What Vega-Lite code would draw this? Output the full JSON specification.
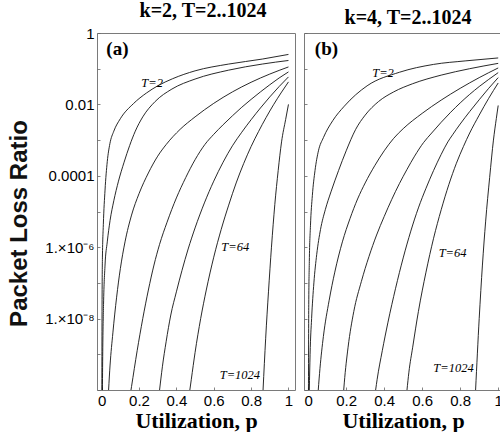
{
  "$schema": "https://vega.github.io/schema/vega-lite/v6.json",
  "background": "white",
  "padding": {"left": 6, "top": 0, "right": 0, "bottom": 0},
  "spacing": 7,
  "config": {"view": {"stroke": "#7a7a7a", "strokeWidth": 1}, "font": "Liberation Sans", "axis": {"labelOverlap": false}},
  "datasets": {
    "a": [
      {"T": "2", "p": 1.0, "ratio": 0.251}, {"T": "2", "p": 0.86, "ratio": 0.186}, {"T": "2", "p": 0.68, "ratio": 0.135},
      {"T": "2", "p": 0.50, "ratio": 0.0871}, {"T": "2", "p": 0.38, "ratio": 0.0525}, {"T": "2", "p": 0.30, "ratio": 0.0331},
      {"T": "2", "p": 0.24, "ratio": 0.0209}, {"T": "2", "p": 0.17, "ratio": 0.0105}, {"T": "2", "p": 0.10, "ratio": 0.00398},
      {"T": "2", "p": 0.065, "ratio": 0.00178}, {"T": "2", "p": 0.044, "ratio": 7.94e-4}, {"T": "2", "p": 0.03, "ratio": 2.51e-4},
      {"T": "2", "p": 0.018, "ratio": 3.98e-5}, {"T": "2", "p": 0.009, "ratio": 4.37e-6}, {"T": "2", "p": 0.004, "ratio": 5.01e-7},
      {"T": "2", "p": 0.002, "ratio": 1.58e-8}, {"T": "2", "p": 0.001, "ratio": 1e-10},

      {"T": "4", "p": 1.0, "ratio": 0.17}, {"T": "4", "p": 0.86, "ratio": 0.135}, {"T": "4", "p": 0.68, "ratio": 0.0912},
      {"T": "4", "p": 0.50, "ratio": 0.0513}, {"T": "4", "p": 0.376, "ratio": 0.0269}, {"T": "4", "p": 0.286, "ratio": 0.012},
      {"T": "4", "p": 0.22, "ratio": 0.00447}, {"T": "4", "p": 0.18, "ratio": 0.00178}, {"T": "4", "p": 0.15, "ratio": 7.08e-4},
      {"T": "4", "p": 0.12, "ratio": 2.4e-4}, {"T": "4", "p": 0.09, "ratio": 7.08e-5}, {"T": "4", "p": 0.065, "ratio": 2.0e-5},
      {"T": "4", "p": 0.045, "ratio": 5.62e-6}, {"T": "4", "p": 0.03, "ratio": 1.41e-6}, {"T": "4", "p": 0.018, "ratio": 3.16e-7},
      {"T": "4", "p": 0.01, "ratio": 2.51e-8}, {"T": "4", "p": 0.006, "ratio": 1.58e-9}, {"T": "4", "p": 0.004, "ratio": 1e-10},

      {"T": "8", "p": 1.0, "ratio": 0.112}, {"T": "8", "p": 0.90, "ratio": 0.0708}, {"T": "8", "p": 0.80, "ratio": 0.0417},
      {"T": "8", "p": 0.70, "ratio": 0.0224}, {"T": "8", "p": 0.60, "ratio": 0.0107}, {"T": "8", "p": 0.50, "ratio": 0.00447},
      {"T": "8", "p": 0.42, "ratio": 0.002}, {"T": "8", "p": 0.346, "ratio": 7.59e-4}, {"T": "8", "p": 0.30, "ratio": 3.55e-4},
      {"T": "8", "p": 0.25, "ratio": 1.2e-4}, {"T": "8", "p": 0.20, "ratio": 3.16e-5}, {"T": "8", "p": 0.16, "ratio": 7.94e-6},
      {"T": "8", "p": 0.125, "ratio": 1.41e-6}, {"T": "8", "p": 0.10, "ratio": 2.51e-7}, {"T": "8", "p": 0.08, "ratio": 3.98e-8},
      {"T": "8", "p": 0.06, "ratio": 3.98e-9}, {"T": "8", "p": 0.045, "ratio": 5.01e-10}, {"T": "8", "p": 0.037, "ratio": 1e-10},

      {"T": "16", "p": 1.0, "ratio": 0.0813}, {"T": "16", "p": 0.95, "ratio": 0.055}, {"T": "16", "p": 0.90, "ratio": 0.0355},
      {"T": "16", "p": 0.85, "ratio": 0.0224}, {"T": "16", "p": 0.80, "ratio": 0.0138}, {"T": "16", "p": 0.75, "ratio": 0.00832},
      {"T": "16", "p": 0.70, "ratio": 0.00479}, {"T": "16", "p": 0.65, "ratio": 0.00269}, {"T": "16", "p": 0.60, "ratio": 0.00145},
      {"T": "16", "p": 0.553, "ratio": 7.59e-4}, {"T": "16", "p": 0.50, "ratio": 2.82e-4}, {"T": "16", "p": 0.45, "ratio": 8.91e-5},
      {"T": "16", "p": 0.40, "ratio": 2.4e-5}, {"T": "16", "p": 0.35, "ratio": 5.01e-6}, {"T": "16", "p": 0.31, "ratio": 1.2e-6},
      {"T": "16", "p": 0.28, "ratio": 3.16e-7}, {"T": "16", "p": 0.25, "ratio": 6.31e-8}, {"T": "16", "p": 0.22, "ratio": 1e-8},
      {"T": "16", "p": 0.19, "ratio": 1.26e-9}, {"T": "16", "p": 0.16, "ratio": 1.26e-10}, {"T": "16", "p": 0.157, "ratio": 1e-10},

      {"T": "32", "p": 1.0, "ratio": 0.0589}, {"T": "32", "p": 0.95, "ratio": 0.0316}, {"T": "32", "p": 0.90, "ratio": 0.0162},
      {"T": "32", "p": 0.85, "ratio": 0.00794}, {"T": "32", "p": 0.80, "ratio": 0.00372}, {"T": "32", "p": 0.75, "ratio": 0.00166},
      {"T": "32", "p": 0.70, "ratio": 6.92e-4}, {"T": "32", "p": 0.65, "ratio": 2.4e-4}, {"T": "32", "p": 0.60, "ratio": 7.08e-5},
      {"T": "32", "p": 0.55, "ratio": 1.74e-5}, {"T": "32", "p": 0.50, "ratio": 3.47e-6}, {"T": "32", "p": 0.463, "ratio": 8.91e-7},
      {"T": "32", "p": 0.43, "ratio": 2.24e-7}, {"T": "32", "p": 0.40, "ratio": 5.62e-8}, {"T": "32", "p": 0.37, "ratio": 1.26e-8},
      {"T": "32", "p": 0.345, "ratio": 2.24e-9}, {"T": "32", "p": 0.325, "ratio": 4.47e-10}, {"T": "32", "p": 0.31, "ratio": 1e-10},

      {"T": "64", "p": 1.0, "ratio": 0.0427}, {"T": "64", "p": 0.96, "ratio": 0.0209}, {"T": "64", "p": 0.92, "ratio": 0.00977},
      {"T": "64", "p": 0.88, "ratio": 0.00427}, {"T": "64", "p": 0.84, "ratio": 0.00174}, {"T": "64", "p": 0.80, "ratio": 6.61e-4},
      {"T": "64", "p": 0.76, "ratio": 2.19e-4}, {"T": "64", "p": 0.72, "ratio": 6.31e-5}, {"T": "64", "p": 0.68, "ratio": 1.51e-5},
      {"T": "64", "p": 0.64, "ratio": 3.16e-6}, {"T": "64", "p": 0.60, "ratio": 5.25e-7}, {"T": "64", "p": 0.56, "ratio": 6.31e-8},
      {"T": "64", "p": 0.53, "ratio": 1e-8}, {"T": "64", "p": 0.50, "ratio": 1.12e-9}, {"T": "64", "p": 0.48, "ratio": 2.0e-10},
      {"T": "64", "p": 0.472, "ratio": 1e-10},

      {"T": "1024", "p": 1.0, "ratio": 0.01}, {"T": "1024", "p": 0.985, "ratio": 0.0038}, {"T": "1024", "p": 0.963, "ratio": 8.91e-4},
      {"T": "1024", "p": 0.945, "ratio": 1.41e-4}, {"T": "1024", "p": 0.927, "ratio": 1.58e-5}, {"T": "1024", "p": 0.909, "ratio": 1e-6},
      {"T": "1024", "p": 0.893, "ratio": 5.62e-8}, {"T": "1024", "p": 0.878, "ratio": 2.82e-9}, {"T": "1024", "p": 0.864, "ratio": 1e-10}
    ],
    "b": [
      {"T": "2", "p": 1.0, "ratio": 0.2}, {"T": "2", "p": 0.83, "ratio": 0.166}, {"T": "2", "p": 0.66, "ratio": 0.132},
      {"T": "2", "p": 0.48, "ratio": 0.0794}, {"T": "2", "p": 0.31, "ratio": 0.0331}, {"T": "2", "p": 0.19, "ratio": 0.00891},
      {"T": "2", "p": 0.13, "ratio": 0.00355}, {"T": "2", "p": 0.08, "ratio": 0.00117}, {"T": "2", "p": 0.054, "ratio": 5.01e-4},
      {"T": "2", "p": 0.036, "ratio": 1.41e-4}, {"T": "2", "p": 0.022, "ratio": 2.82e-5}, {"T": "2", "p": 0.012, "ratio": 3.98e-6},
      {"T": "2", "p": 0.006, "ratio": 3.98e-7}, {"T": "2", "p": 0.003, "ratio": 2.51e-8}, {"T": "2", "p": 0.0015, "ratio": 1e-10},

      {"T": "4", "p": 1.0, "ratio": 0.141}, {"T": "4", "p": 0.85, "ratio": 0.1}, {"T": "4", "p": 0.70, "ratio": 0.0661},
      {"T": "4", "p": 0.55, "ratio": 0.038}, {"T": "4", "p": 0.45, "ratio": 0.0224}, {"T": "4", "p": 0.37, "ratio": 0.012},
      {"T": "4", "p": 0.30, "ratio": 0.00501}, {"T": "4", "p": 0.25, "ratio": 0.002}, {"T": "4", "p": 0.20, "ratio": 5.01e-4},
      {"T": "4", "p": 0.16, "ratio": 1.41e-4}, {"T": "4", "p": 0.12, "ratio": 3.55e-5}, {"T": "4", "p": 0.09, "ratio": 1.12e-5},
      {"T": "4", "p": 0.065, "ratio": 3.16e-6}, {"T": "4", "p": 0.045, "ratio": 6.31e-7}, {"T": "4", "p": 0.03, "ratio": 1e-7},
      {"T": "4", "p": 0.018, "ratio": 1e-8}, {"T": "4", "p": 0.01, "ratio": 1e-9}, {"T": "4", "p": 0.006, "ratio": 1e-10},

      {"T": "8", "p": 1.0, "ratio": 0.105}, {"T": "8", "p": 0.90, "ratio": 0.0562}, {"T": "8", "p": 0.80, "ratio": 0.0282},
      {"T": "8", "p": 0.70, "ratio": 0.0132}, {"T": "8", "p": 0.60, "ratio": 0.00562}, {"T": "8", "p": 0.50, "ratio": 0.00209},
      {"T": "8", "p": 0.45, "ratio": 0.00112}, {"T": "8", "p": 0.40, "ratio": 5.01e-4}, {"T": "8", "p": 0.35, "ratio": 1.91e-4},
      {"T": "8", "p": 0.30, "ratio": 6.31e-5}, {"T": "8", "p": 0.26, "ratio": 2.24e-5}, {"T": "8", "p": 0.22, "ratio": 6.31e-6},
      {"T": "8", "p": 0.18, "ratio": 1.41e-6}, {"T": "8", "p": 0.14, "ratio": 2.0e-7}, {"T": "8", "p": 0.11, "ratio": 3.16e-8},
      {"T": "8", "p": 0.08, "ratio": 3.16e-9}, {"T": "8", "p": 0.062, "ratio": 3.98e-10}, {"T": "8", "p": 0.053, "ratio": 1e-10},

      {"T": "16", "p": 1.0, "ratio": 0.0776}, {"T": "16", "p": 0.95, "ratio": 0.0501}, {"T": "16", "p": 0.90, "ratio": 0.0316},
      {"T": "16", "p": 0.85, "ratio": 0.0191}, {"T": "16", "p": 0.80, "ratio": 0.011}, {"T": "16", "p": 0.75, "ratio": 0.00603},
      {"T": "16", "p": 0.70, "ratio": 0.00316}, {"T": "16", "p": 0.65, "ratio": 0.00158}, {"T": "16", "p": 0.607, "ratio": 8.51e-4},
      {"T": "16", "p": 0.56, "ratio": 3.55e-4}, {"T": "16", "p": 0.52, "ratio": 1.51e-4}, {"T": "16", "p": 0.48, "ratio": 6.03e-5},
      {"T": "16", "p": 0.44, "ratio": 2.19e-5}, {"T": "16", "p": 0.40, "ratio": 7.24e-6}, {"T": "16", "p": 0.36, "ratio": 2.19e-6},
      {"T": "16", "p": 0.32, "ratio": 5.5e-7}, {"T": "16", "p": 0.28, "ratio": 1.1e-7}, {"T": "16", "p": 0.24, "ratio": 1.58e-8},
      {"T": "16", "p": 0.21, "ratio": 1.58e-9}, {"T": "16", "p": 0.19, "ratio": 1.58e-10}, {"T": "16", "p": 0.187, "ratio": 1e-10},

      {"T": "32", "p": 1.0, "ratio": 0.0562}, {"T": "32", "p": 0.95, "ratio": 0.0282}, {"T": "32", "p": 0.90, "ratio": 0.0135},
      {"T": "32", "p": 0.85, "ratio": 0.00631}, {"T": "32", "p": 0.80, "ratio": 0.00282}, {"T": "32", "p": 0.76, "ratio": 0.00141},
      {"T": "32", "p": 0.735, "ratio": 8.91e-4}, {"T": "32", "p": 0.70, "ratio": 3.98e-4}, {"T": "32", "p": 0.66, "ratio": 1.41e-4},
      {"T": "32", "p": 0.62, "ratio": 4.47e-5}, {"T": "32", "p": 0.58, "ratio": 1.26e-5}, {"T": "32", "p": 0.54, "ratio": 2.82e-6},
      {"T": "32", "p": 0.50, "ratio": 5.01e-7}, {"T": "32", "p": 0.46, "ratio": 7.08e-8}, {"T": "32", "p": 0.42, "ratio": 7.94e-9},
      {"T": "32", "p": 0.39, "ratio": 1.26e-9}, {"T": "32", "p": 0.363, "ratio": 2.0e-10}, {"T": "32", "p": 0.355, "ratio": 1e-10},

      {"T": "64", "p": 1.0, "ratio": 0.0398}, {"T": "64", "p": 0.95, "ratio": 0.0148}, {"T": "64", "p": 0.90, "ratio": 0.00501},
      {"T": "64", "p": 0.85, "ratio": 0.00158}, {"T": "64", "p": 0.817, "ratio": 6.61e-4}, {"T": "64", "p": 0.78, "ratio": 2.24e-4},
      {"T": "64", "p": 0.74, "ratio": 5.62e-5}, {"T": "64", "p": 0.70, "ratio": 1.12e-5}, {"T": "64", "p": 0.66, "ratio": 1.78e-6},
      {"T": "64", "p": 0.62, "ratio": 2.0e-7}, {"T": "64", "p": 0.58, "ratio": 1.58e-8}, {"T": "64", "p": 0.55, "ratio": 1.58e-9},
      {"T": "64", "p": 0.53, "ratio": 3.16e-10}, {"T": "64", "p": 0.52, "ratio": 1e-10},

      {"T": "1024", "p": 1.0, "ratio": 0.00933}, {"T": "1024", "p": 0.99, "ratio": 0.00398}, {"T": "1024", "p": 0.975, "ratio": 0.001},
      {"T": "1024", "p": 0.955, "ratio": 8.91e-5}, {"T": "1024", "p": 0.934, "ratio": 5.37e-6}, {"T": "1024", "p": 0.917, "ratio": 3.16e-7},
      {"T": "1024", "p": 0.90, "ratio": 1e-8}, {"T": "1024", "p": 0.881, "ratio": 1e-10}
    ],
    "panA": [{"label": "(a)", "p": 0.025, "ratio": 0.347}],
    "panB": [{"label": "(b)", "p": 0.035, "ratio": 0.347}],
    "tagA": [
      {"label": "T=2", "p": 0.27, "ratio": 0.0398},
      {"label": "T=64", "p": 0.715, "ratio": 1e-6},
      {"label": "T=1024", "p": 0.74, "ratio": 2.6e-10}
    ],
    "tagB": [
      {"label": "T=2", "p": 0.394, "ratio": 0.0776},
      {"label": "T=64", "p": 0.76, "ratio": 6.76e-7},
      {"label": "T=1024", "p": 0.765, "ratio": 4.07e-10}
    ]
  },
  "hconcat": [
    {
      "width": 198,
      "height": 357,
      "title": {"text": "k=2, T=2..1024", "font": "Liberation Serif", "fontSize": 20, "fontWeight": "bold", "color": "#000", "offset": 5, "frame": "group", "dx": 7},
      "encoding": {
        "x": {
          "field": "p", "type": "quantitative",
          "scale": {"domain": [-0.025, 1.035], "nice": false, "zero": false},
          "axis": {
            "values": [0, 0.2, 0.4, 0.6, 0.8, 1],
            "labelExpr": "datum.value < 0.01 ? '0' : datum.value > 0.99 ? '1' : format(datum.value, '.1f')",
            "labelOverlap": false, "labelBound": false, "labelFlush": false, "labelSeparation": 0,
            "title": "Utilization, p", "titleFont": "Liberation Serif", "titleFontSize": 22, "titleFontWeight": "bold", "titleColor": "#000", "titlePadding": 2,
            "labelFont": "Liberation Sans", "labelFontSize": 15, "labelColor": "#000", "labelPadding": 6,
            "domain": false, "grid": false, "tickSize": -3, "tickColor": "#666", "tickWidth": 0.8
          }
        },
        "y": {
          "field": "ratio", "type": "quantitative",
          "scale": {"type": "log", "domain": [1e-10, 1], "nice": false},
          "axis": {
            "values": [1, 0.1, 0.01, 0.001, 0.0001, 1e-5, 1e-6, 1e-7, 1e-8, 1e-9, 1e-10],
            "labelExpr": "round(log(datum.value)/LN10) == 0 ? '1' : round(log(datum.value)/LN10) == -2 ? '0.01' : round(log(datum.value)/LN10) == -4 ? '0.0001' : round(log(datum.value)/LN10) == -6 ? '1.×10⁻⁶' : round(log(datum.value)/LN10) == -8 ? '1.×10⁻⁸' : ''",
            "labelOverlap": false, "labelBound": false, "labelFlush": false,
            "title": "Packet Loss Ratio", "titleFont": "Liberation Sans", "titleFontSize": 24, "titleFontWeight": "bold", "titleColor": "#111", "titlePadding": 4, "titleY": 190,
            "labelFont": "Liberation Sans", "labelFontSize": 15, "labelColor": "#000", "labelPadding": 6,
            "domain": false, "grid": false, "tickSize": -3, "tickColor": "#666", "tickWidth": 0.8,
            "minExtent": 62, "maxExtent": 62
          }
        }
      },
      "layer": [
        {
          "data": {"name": "a"},
          "mark": {"type": "line", "color": "#111", "strokeWidth": 0.9, "clip": true, "interpolate": "monotone"},
          "encoding": {"detail": {"field": "T", "type": "nominal"}}
        },
        {
          "data": {"name": "panA"},
          "mark": {"type": "text", "font": "Liberation Serif", "fontWeight": "bold", "fontSize": 19, "align": "left", "baseline": "middle", "color": "#000"},
          "encoding": {"text": {"field": "label"}}
        },
        {
          "data": {"name": "tagA"},
          "mark": {"type": "text", "font": "Liberation Serif", "fontStyle": "italic", "fontSize": 12.5, "align": "center", "baseline": "middle", "color": "#000"},
          "encoding": {"text": {"field": "label"}}
        }
      ]
    },
    {
      "width": 198,
      "height": 357,
      "title": {"text": "k=4, T=2..1024", "font": "Liberation Serif", "fontSize": 20, "fontWeight": "bold", "color": "#000", "offset": 5, "frame": "group", "dx": 5},
      "encoding": {
        "x": {
          "field": "p", "type": "quantitative",
          "scale": {"domain": [-0.022, 1.02], "nice": false, "zero": false},
          "axis": {
            "values": [0, 0.2, 0.4, 0.6, 0.8, 1],
            "labelExpr": "datum.value < 0.01 ? '0' : datum.value > 0.99 ? '1' : format(datum.value, '.1f')",
            "labelOverlap": false, "labelBound": false, "labelFlush": false, "labelSeparation": 0,
            "title": "Utilization, p", "titleFont": "Liberation Serif", "titleFontSize": 22, "titleFontWeight": "bold", "titleColor": "#000", "titlePadding": 2,
            "labelFont": "Liberation Sans", "labelFontSize": 15, "labelColor": "#000", "labelPadding": 6,
            "domain": false, "grid": false, "tickSize": -3, "tickColor": "#666", "tickWidth": 0.8
          }
        },
        "y": {
          "field": "ratio", "type": "quantitative",
          "scale": {"type": "log", "domain": [1e-10, 1], "nice": false},
          "axis": {
            "values": [1, 0.1, 0.01, 0.001, 0.0001, 1e-5, 1e-6, 1e-7, 1e-8, 1e-9, 1e-10],
            "labels": false, "title": null,
            "domain": false, "grid": false, "tickSize": -3, "tickColor": "#666", "tickWidth": 0.8,
            "minExtent": 0, "maxExtent": 0
          }
        }
      },
      "layer": [
        {
          "data": {"name": "b"},
          "mark": {"type": "line", "color": "#111", "strokeWidth": 0.9, "clip": true, "interpolate": "monotone"},
          "encoding": {"detail": {"field": "T", "type": "nominal"}}
        },
        {
          "data": {"name": "panB"},
          "mark": {"type": "text", "font": "Liberation Serif", "fontWeight": "bold", "fontSize": 19, "align": "left", "baseline": "middle", "color": "#000"},
          "encoding": {"text": {"field": "label"}}
        },
        {
          "data": {"name": "tagB"},
          "mark": {"type": "text", "font": "Liberation Serif", "fontStyle": "italic", "fontSize": 12.5, "align": "center", "baseline": "middle", "color": "#000"},
          "encoding": {"text": {"field": "label"}}
        }
      ]
    }
  ]
}
